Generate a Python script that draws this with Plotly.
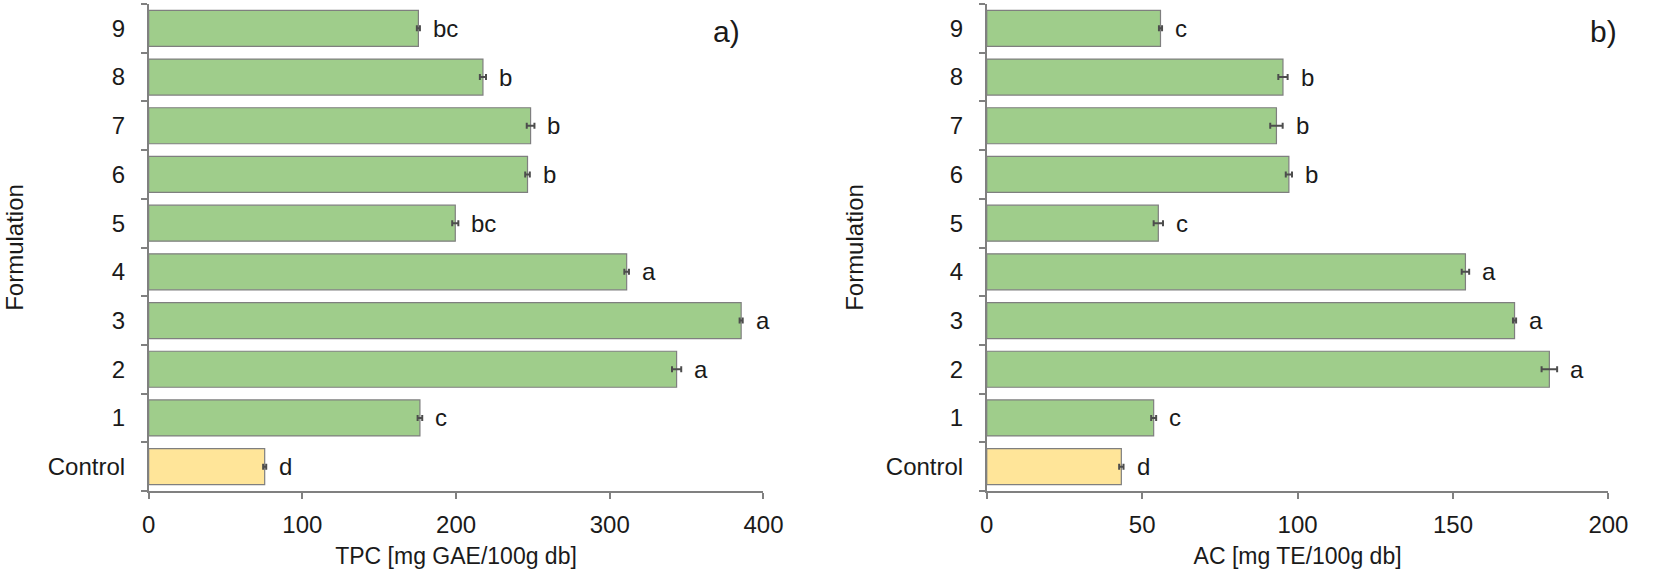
import plotly.graph_objects as go

# data
formulations = ['Control', '1', '2', '3', '4', '5', '6', '7', '8', '9']

tpc = [75.5, 176.5, 343.5, 385.5, 311, 199.5, 246.5, 248.5, 217.5, 175.5]
tpc_err = [1, 1.5, 3, 1, 1.5, 2, 1.5, 2.5, 2, 1]
tpc_letters = ['d', 'c', 'a', 'a', 'a', 'bc', 'b', 'b', 'b', 'bc']

ac = [43.3, 53.7, 181, 169.8, 154, 55.2, 97.2, 93.2, 95.3, 55.9]
ac_err = [0.7, 0.8, 2.5, 0.5, 1.2, 1.5, 1, 2, 1.5, 0.5]
ac_letters = ['d', 'c', 'a', 'a', 'a', 'c', 'b', 'b', 'b', 'c']

green = '#9fcd8b'
yellow = '#ffe599'
bar_colors = [yellow] + [green] * 9

W, H = 1654, 575
font = 'Liberation Sans, Arial, sans-serif'
ink = '#1a1a1a'

fig = go.Figure()

fig.add_trace(go.Bar(
    x=tpc, y=formulations, orientation='h',
    marker=dict(color=bar_colors, line=dict(color='#7f7f7f', width=1.2)),
    error_x=dict(type='data', array=tpc_err, color='#4d4d4d', thickness=2, width=3),
    xaxis='x', yaxis='y', showlegend=False,
))
fig.add_trace(go.Bar(
    x=ac, y=formulations, orientation='h',
    marker=dict(color=bar_colors, line=dict(color='#7f7f7f', width=1.2)),
    error_x=dict(type='data', array=ac_err, color='#4d4d4d', thickness=2, width=3),
    xaxis='x2', yaxis='y2', showlegend=False,
))

annotations = []
# significance letters next to each bar
for v, e, lab, f in zip(tpc, tpc_err, tpc_letters, formulations):
    annotations.append(dict(x=v + e, y=f, xref='x', yref='y', text=lab, showarrow=False,
                            xanchor='left', xshift=11, font=dict(size=24, color=ink, family=font)))
for v, e, lab, f in zip(ac, ac_err, ac_letters, formulations):
    annotations.append(dict(x=v + e, y=f, xref='x2', yref='y2', text=lab, showarrow=False,
                            xanchor='left', xshift=11, font=dict(size=24, color=ink, family=font)))

# panel labels
annotations.append(dict(x=747 / W, y=1 - 31 / H, xref='paper', yref='paper', text='a)',
                        showarrow=False, xanchor='right', yanchor='middle',
                        font=dict(size=30, color=ink, family=font)))
annotations.append(dict(x=1639 / W, y=1 - 31 / H, xref='paper', yref='paper', text='b)',
                        showarrow=False, xanchor='right', yanchor='middle',
                        font=dict(size=30, color=ink, family=font)))

xdom1 = [144 / W, 769 / W]
xdom2 = [996 / W, 1628 / W]
ydom = [(H - 491) / H, (H - 4) / H]

axis_common = dict(showline=True, linecolor='#808080', linewidth=1.5, showgrid=False, zeroline=False,
                   ticks='outside', tickcolor='#808080', tickwidth=1.5, ticklen=6,
                   tickfont=dict(size=24, color=ink, family=font))

fig.update_layout(
    width=W, height=H,
    margin=dict(l=0, r=0, t=0, b=0),
    paper_bgcolor='white', plot_bgcolor='white',
    bargap=0.26,
    font=dict(family=font, color=ink),
    xaxis=dict(domain=xdom1, anchor='y', range=[0, 400], dtick=100, ticklabelstandoff=5,
               title=dict(text='TPC [mg GAE/100g db]', font=dict(size=23), standoff=11), **axis_common),
    yaxis=dict(domain=ydom, anchor='x', categoryorder='array', categoryarray=formulations,
               tickson='boundaries', ticklabelstandoff=17,
               title=dict(text='Formulation', font=dict(size=24), standoff=17), **axis_common),
    xaxis2=dict(domain=xdom2, anchor='y2', range=[0, 200], dtick=50, ticklabelstandoff=5,
                title=dict(text='AC [mg TE/100g db]', font=dict(size=23), standoff=11), **axis_common),
    yaxis2=dict(domain=ydom, anchor='x2', categoryorder='array', categoryarray=formulations,
                tickson='boundaries', ticklabelstandoff=17,
                title=dict(text='Formulation', font=dict(size=24), standoff=15), **axis_common),
    annotations=annotations,
)

# drop the default page margin so the figure sits at the window corner
fig.write_html('out.html', config={'displayModeBar': False},
               post_script="document.body.style.margin='0';")
